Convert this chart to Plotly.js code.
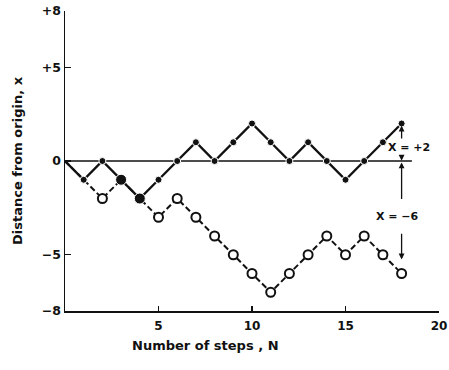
<!DOCTYPE html>
<html>
<head>
<meta charset="utf-8">
<script src="https://cdn.plot.ly/plotly-3.0.1.min.js"></script>
<style>html,body{margin:0;padding:0;background:#fff;}#chart{width:449px;height:370px;}</style>
</head>
<body>
<div id="chart"></div>
<script>
// Data
const steps = [0,1,2,3,4,5,6,7,8,9,10,11,12,13,14,15,16,17,18];
const filledWalk = [0,-1,0,-1,-2,-1,0,1,0,1,2,1,0,1,0,-1,0,1,2];
const openWalk = [0,-1,-2,-1,-2,-3,-2,-3,-4,-5,-6,-7,-6,-5,-4,-5,-4,-5,-6];
const xTickVals = [5,10,15,20];
const yTickVals = [8,5,0,-5,-8];
const yTickText = ['+8','+5','0','\u22125','\u22128'];
const finalFilledLabel = 'X = +2';
const finalOpenLabel = 'X = \u22126';

const FONT = {family: 'DejaVu Sans, Liberation Sans, sans-serif', color: '#111', weight: 'bold'};

// styles derived from data: hide origin markers, enlarge coincident points
const coincide = steps.map((s, i) => filledWalk[i] === openWalk[i]);
const openSizes = steps.map((s, i) => (i === 0 || coincide[i]) ? 0 : 9);
const filledSizes = steps.map((s, i) => i === 0 ? 0 : (coincide[i] && i > 1 ? 11 : 7));

const lastN = steps[steps.length - 1];
const lastF = filledWalk[filledWalk.length - 1];
const lastO = openWalk[openWalk.length - 1];

const traces = [
  {
    x: steps, y: openWalk, type: 'scatter', mode: 'lines+markers',
    line: {color: '#111', width: 2, dash: '6px,3px'},
    marker: {symbol: 'circle', size: openSizes, opacity: 1, color: '#fff', line: {color: '#111', width: 2}},
    hoverinfo: 'skip', showlegend: false
  },
  {
    x: steps, y: filledWalk, type: 'scatter', mode: 'lines+markers',
    line: {color: '#111', width: 2.3},
    marker: {symbol: 'circle', size: filledSizes, opacity: 1, color: '#111'},
    hoverinfo: 'skip', showlegend: false
  }
];

function arrow(x, yTail, yHead) {
  return {x: x, y: yHead, ax: x, ay: yTail, xref: 'x', yref: 'y', axref: 'x', ayref: 'y',
    text: '', showarrow: true, arrowhead: 2, arrowsize: 0.9, arrowwidth: 1.3, arrowcolor: '#111',
    standoff: 0, startstandoff: 0};
}

const annotations = [
  arrow(lastN, 1.12, lastF - 0.12),
  arrow(lastN, 0.38, 0.02),
  arrow(lastN, -2.1, -0.08),
  arrow(lastN, -3.8, lastO + 0.75),
  {x: lastN + 0.38, y: 0.72, xref: 'x', yref: 'y', text: finalFilledLabel, showarrow: false,
   font: Object.assign({size: 11}, FONT)},
  {x: lastN - 0.2, y: -2.98, xref: 'x', yref: 'y', text: finalOpenLabel, showarrow: false,
   font: Object.assign({size: 11}, FONT)},
  {x: (205 - 65) / (449 - 65 - 10), y: -(345 - 311) / (370 - 11 - 59),
   xref: 'paper', yref: 'paper', xanchor: 'center', yanchor: 'middle',
   text: 'Number of steps , N', showarrow: false,
   font: Object.assign({size: 13}, FONT)}
];

const layout = {
  width: 449, height: 370,
  margin: {l: 65, r: 10, t: 11, b: 59},
  paper_bgcolor: '#fff', plot_bgcolor: '#fff',
  font: Object.assign({size: 12}, FONT),
  showlegend: false,
  xaxis: {
    range: [0, 20], showgrid: false, zeroline: false,
    showline: true, linecolor: '#111', linewidth: 1.5,
    ticks: 'inside', ticklen: 5, tickwidth: 1.3, tickcolor: '#111',
    ticklabelstandoff: 3,
    tickvals: xTickVals, tickfont: Object.assign({size: 12}, FONT)
  },
  yaxis: {
    range: [-8, 8], showgrid: false, zeroline: false,
    showline: true, linecolor: '#111', linewidth: 1.5,
    ticks: 'inside', ticklen: 6, tickwidth: 1.3, tickcolor: '#111',
    tickvals: yTickVals, ticktext: yTickText, tickfont: Object.assign({size: 12.5}, FONT),
    title: {text: 'Distance from origin, x', font: Object.assign({size: 13}, FONT), standoff: 16}
  },
  shapes: [
    {type: 'line', xref: 'x', yref: 'y', x0: 0, x1: 18.55, y0: 0, y1: 0,
     line: {color: '#111', width: 1.4}, layer: 'below'}
  ],
  annotations: annotations
};

Plotly.newPlot('chart', traces, layout, {displayModeBar: false, staticPlot: true});
</script>
</body>
</html>
